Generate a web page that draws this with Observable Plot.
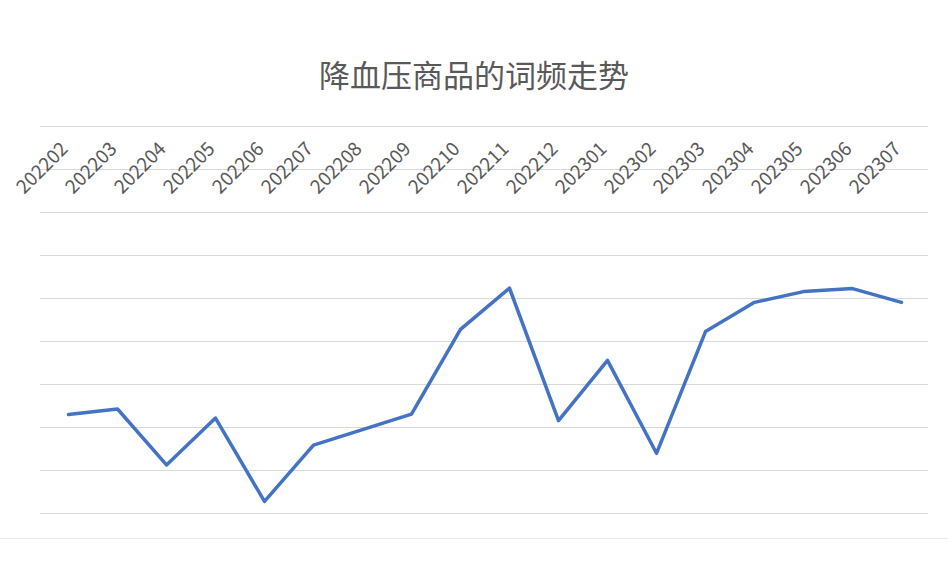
<!DOCTYPE html>
<html>
<head>
<meta charset="utf-8">
<script src="https://cdn.jsdelivr.net/npm/d3@7"></script>
<script src="https://cdn.jsdelivr.net/npm/@observablehq/plot@0.6"></script>
<style>
  html, body { margin: 0; padding: 0; background: #fff; }
  #wrap { width: 948px; border-bottom: 1px solid #e6e6e6; }
  #title { height: 100px; box-sizing: border-box; padding-top: 55px; line-height: 38px; text-align: center; font-family: "Noto Sans CJK SC", sans-serif; font-size: 31px; color: #595959; }
  svg { display: block; }
</style>
</head>
<body>
<div id="wrap">
  <div id="title">降血压商品的词频走势</div>
  <div id="chart"></div>
</div>
<script>
const months = ["202202","202203","202204","202205","202206","202207","202208","202209","202210","202211","202212","202301","202302","202303","202304","202305","202306","202307"];
const values = [230, 243, 113, 222, 28, 159, 195, 231, 428, 524, 216, 356, 140, 423, 491, 516, 523, 491];
const gridTicks = [0, 100, 200, 300, 400, 500, 600, 700, 800, 900];

const data = months.map((m, i) => ({month: m, value: values[i]}));

const chart = Plot.plot({
  width: 948,
  height: 438,
  marginTop: 26,
  marginBottom: 25,
  marginLeft: 40,
  marginRight: 20,
  x: {type: "point", domain: months, padding: 0.5, axis: null},
  y: {domain: [0, 900], axis: null},
  style: {fontFamily: "'Noto Sans CJK SC', sans-serif", background: "#fff"},
  marks: [
    Plot.ruleY(gridTicks, {stroke: "#d9d9d9", strokeWidth: 1}),
    Plot.text(months, {
      x: d => d,
      text: d => d,
      frameAnchor: "top",
      dy: 14,
      dx: -9,
      rotate: -45,
      textAnchor: "end",
      fontSize: 19,
      fill: "#595959"
    }),
    Plot.line(data, {x: "month", y: "value", stroke: "#4472C4", strokeWidth: 3.5, strokeLinejoin: "round", strokeLinecap: "round"})
  ]
});
document.getElementById("chart").appendChild(chart);
</script>
</body>
</html>
